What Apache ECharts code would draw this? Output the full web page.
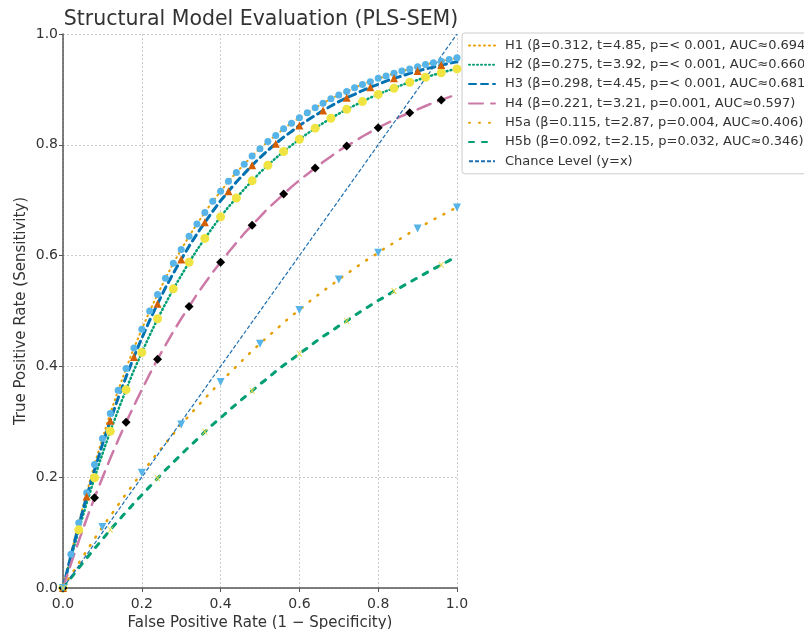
<!DOCTYPE html>
<html>
<head>
<meta charset="utf-8">
<script src="https://cdn.jsdelivr.net/npm/echarts@6/dist/echarts.min.js"></script>
<style>html,body{margin:0;padding:0;background:#fff;}#c{width:804px;height:629px;}</style>
</head>
<body>
<div id="c"></div>
<script>
const fpr = [0,0.02,0.04,0.06,0.08,0.10,0.12,0.14,0.16,0.18,0.20,0.22,0.24,0.26,0.28,0.30,0.32,0.34,0.36,0.38,0.40,0.42,0.44,0.46,0.48,0.50,0.52,0.54,0.56,0.58,0.60,0.62,0.64,0.66,0.68,0.70,0.72,0.74,0.76,0.78,0.80,0.82,0.84,0.86,0.88,0.90,0.92,0.94,0.96,0.98,1.00];
const h1 = [0,0.061,0.118,0.172,0.223,0.270,0.315,0.357,0.396,0.433,0.467,0.500,0.530,0.559,0.586,0.611,0.635,0.657,0.678,0.698,0.716,0.734,0.750,0.765,0.780,0.793,0.806,0.817,0.829,0.839,0.849,0.858,0.867,0.875,0.883,0.890,0.896,0.903,0.909,0.914,0.920,0.924,0.929,0.933,0.937,0.941,0.945,0.948,0.951,0.954,0.957];
const h2 = [0,0.054,0.105,0.153,0.199,0.242,0.283,0.321,0.358,0.393,0.425,0.456,0.486,0.513,0.540,0.564,0.588,0.610,0.631,0.651,0.670,0.688,0.704,0.720,0.735,0.750,0.763,0.776,0.788,0.799,0.810,0.820,0.830,0.839,0.848,0.856,0.864,0.871,0.878,0.885,0.891,0.897,0.902,0.908,0.913,0.917,0.922,0.926,0.930,0.934,0.937];
const h3 = [0,0.058,0.113,0.165,0.213,0.259,0.302,0.343,0.381,0.417,0.451,0.483,0.513,0.542,0.568,0.593,0.617,0.639,0.660,0.680,0.699,0.716,0.733,0.748,0.763,0.777,0.790,0.802,0.814,0.824,0.835,0.844,0.853,0.862,0.870,0.878,0.885,0.891,0.898,0.904,0.909,0.915,0.920,0.924,0.929,0.933,0.937,0.940,0.944,0.947,0.950];
const h4 = [0,0.043,0.085,0.125,0.163,0.199,0.234,0.267,0.299,0.329,0.358,0.386,0.413,0.438,0.463,0.486,0.508,0.530,0.550,0.570,0.588,0.606,0.623,0.640,0.655,0.670,0.685,0.698,0.711,0.724,0.736,0.747,0.758,0.769,0.779,0.789,0.798,0.806,0.815,0.823,0.831,0.838,0.845,0.852,0.858,0.864,0.870,0.876,0.881,0.886,0.891];
const h5a = [0,0.023,0.045,0.067,0.089,0.110,0.130,0.150,0.170,0.189,0.208,0.226,0.244,0.261,0.278,0.295,0.311,0.327,0.342,0.357,0.372,0.386,0.400,0.414,0.428,0.441,0.454,0.466,0.479,0.491,0.502,0.514,0.525,0.536,0.546,0.557,0.567,0.577,0.587,0.596,0.605,0.615,0.623,0.632,0.641,0.649,0.657,0.665,0.672,0.680,0.687];
const h5b = [0,0.018,0.036,0.054,0.071,0.088,0.105,0.121,0.137,0.153,0.168,0.183,0.198,0.213,0.227,0.241,0.255,0.268,0.282,0.295,0.307,0.320,0.332,0.344,0.356,0.368,0.379,0.391,0.402,0.412,0.423,0.433,0.444,0.454,0.463,0.473,0.482,0.492,0.501,0.510,0.519,0.527,0.536,0.544,0.552,0.560,0.568,0.576,0.583,0.591,0.598];
const chanceX = [0, 1];
const chanceY = [0, 1];
const names = [
  'H1 (β=0.312, t=4.85, p=< 0.001, AUC≈0.694)',
  'H2 (β=0.275, t=3.92, p=< 0.001, AUC≈0.660)',
  'H3 (β=0.298, t=4.45, p=< 0.001, AUC≈0.681)',
  'H4 (β=0.221, t=3.21, p=0.001, AUC≈0.597)',
  'H5a (β=0.115, t=2.87, p=0.004, AUC≈0.406)',
  'H5b (β=0.092, t=2.15, p=0.032, AUC≈0.346)',
  'Chance Level (y=x)'
];

const pairs = ys => fpr.map((x, i) => [x, ys[i]]);
const every = (ys, n) => fpr.map((x, i) => [x, ys[i]]).filter((_, i) => i % n === 0);

const font = 'DejaVu Sans';
const lineSeries = (name, ys, color, width, dash) => ({
  name, type: 'line', data: pairs(ys), symbol: 'none', z: 2,
  lineStyle: { color, width, type: dash, cap: 'round' },
  itemStyle: { color }
});
const markSeries = (pts, symbol, size, color) => ({
  type: 'scatter', data: pts, symbol, symbolSize: size, z: 5, silent: true,
  itemStyle: { color, borderWidth: 0, opacity: 1 }
});

const chart = echarts.init(document.getElementById('c'));
chart.setOption({
  animation: false,
  backgroundColor: '#fff',
  textStyle: { fontFamily: font },
  title: {
    text: 'Structural Model Evaluation (PLS-SEM)',
    left: 256, top: 4, textAlign: 'center',
    textStyle: { fontFamily: font, fontSize: 20.5, fontWeight: 'normal', color: '#333' }
  },
  grid: { left: 63, right: 347, top: 34, bottom: 41, containLabel: false, outerBoundsMode: 'none' },
  legend: {
    data: names,
    orient: 'vertical', left: 462, top: 33,
    itemWidth: 26, itemHeight: 14, itemGap: 6.3,
    padding: [6, 6, 6, 6],
    backgroundColor: '#fff', borderColor: '#ccc', borderWidth: 1, borderRadius: 3,
    itemStyle: { opacity: 0 },
    textStyle: { fontFamily: font, fontSize: 13, color: '#333', padding: [0, 0, 0, 5] }
  },
  xAxis: {
    type: 'value', min: 0, max: 1, interval: 0.2,
    name: 'False Positive Rate (1 − Specificity)', nameLocation: 'middle', nameGap: 23,
    nameTextStyle: { fontFamily: font, fontSize: 15, color: '#333' },
    axisLine: { show: true, lineStyle: { color: '#555', width: 1.5 } },
    axisTick: { show: true, length: 4, lineStyle: { color: '#555' } },
    axisLabel: { fontFamily: font, fontSize: 14, color: '#333', margin: 9, formatter: v => v.toFixed(1) },
    splitLine: { show: true, lineStyle: { color: '#ccc', type: [2, 2], width: 1 } }
  },
  yAxis: {
    type: 'value', min: 0, max: 1, interval: 0.2,
    name: 'True Positive Rate (Sensitivity)', nameLocation: 'middle', nameGap: 34,
    nameTextStyle: { fontFamily: font, fontSize: 15, color: '#333' },
    axisLine: { show: true, lineStyle: { color: '#555', width: 1.5 } },
    axisTick: { show: true, length: 4, lineStyle: { color: '#555' } },
    axisLabel: { fontFamily: font, fontSize: 14, color: '#333', margin: 5, formatter: v => v.toFixed(1) },
    splitLine: { show: true, lineStyle: { color: '#ccc', type: [2, 2], width: 1 } }
  },
  series: [
    lineSeries(names[0], h1, '#E69F00', 2, [1, 4]),
    lineSeries(names[1], h2, '#009E73', 2.5, [1, 3]),
    lineSeries(names[2], h3, '#0072B2', 3, [7, 5]),
    lineSeries(names[3], h4, '#CC79A7', 2.5, [14, 8]),
    lineSeries(names[4], h5a, '#E69F00', 2.5, [1, 9]),
    lineSeries(names[5], h5b, '#009E73', 3, [5, 8]),
    { name: names[6], type: 'line', data: chanceX.map((x, i) => [x, chanceY[i]]), symbol: 'none', z: 3,
      lineStyle: { color: '#1f6fb0', width: 1.2, type: [4, 2] }, itemStyle: { color: '#1f6fb0' } },
    markSeries(every(h1, 1), 'circle', 7, '#56B4E9'),
    markSeries(every(h2, 2), 'circle', 9, '#F0E442'),
    markSeries(every(h3, 3), 'triangle', 8, '#D55E00'),
    markSeries(every(h4, 4), 'diamond', 9, '#000000'),
    markSeries(every(h5a, 5), 'path://M0,0 L10,0 L5,9 Z', 8, '#56B4E9'),
    markSeries(every(h5b, 6), 'path://M0,0 L2,0 L5,3 L8,0 L10,0 L6,4 L10,8 L8,8 L5,5 L2,8 L0,8 L4,4 Z', 6, '#E5D94A')
  ]
});
</script>
</body>
</html>
